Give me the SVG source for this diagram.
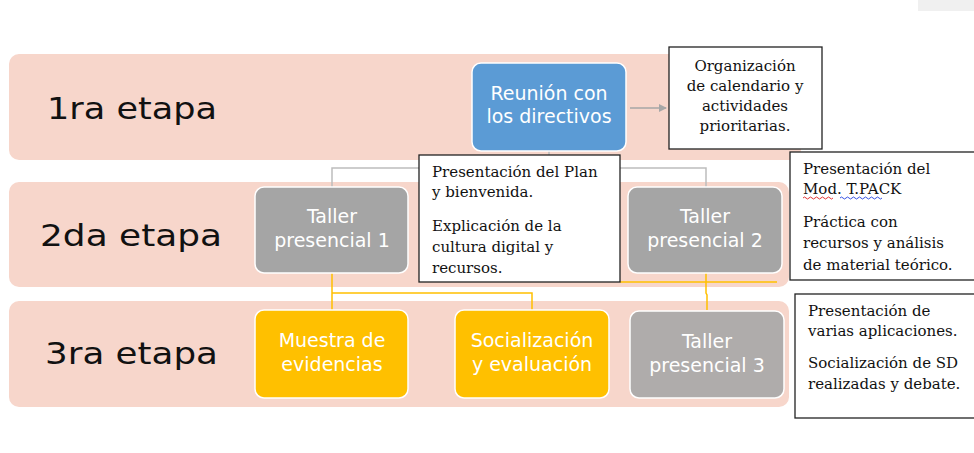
<svg xmlns="http://www.w3.org/2000/svg" width="974" height="453" viewBox="0 0 974 453">
<defs>
<style>
.band{fill:#F7D6CB}
.stage{font-family:"DejaVu Sans","Open Sans",sans-serif;font-size:31px;fill:#111}
.node text{font-family:"DejaVu Sans","Open Sans",sans-serif;font-size:19px;fill:#fff;text-anchor:middle}
.blue{fill:#5B9BD5;stroke:#fff;stroke-width:1.5}
.gray{fill:#A5A5A5;stroke:#fff;stroke-width:1.5}
.gray3{fill:#AFACAB;stroke:#fff;stroke-width:1.5}
.yel{fill:#FFC000;stroke:#fff;stroke-width:1.5}
.note rect{fill:#fff;stroke:#222;stroke-width:1.3}
.note text{font-family:"DejaVu Serif","Liberation Serif",serif;font-size:15px;fill:#111}
.gline{fill:none;stroke:#BDBDBD;stroke-width:1.5}
.yline{fill:none;stroke:#FFC000;stroke-width:1.5}
</style>
<marker id="arr" markerWidth="8" markerHeight="8" refX="7" refY="4" orient="auto" markerUnits="userSpaceOnUse">
<path d="M0,0 L8,4 L0,8 z" fill="#A6A6A6"/>
</marker>
</defs>
<rect x="918" y="0" width="56" height="11" fill="#F0F0F0"/>
<g id="bands">
<rect class="band" x="9" y="54" width="792" height="106" rx="10"/>
<rect class="band" x="9" y="182" width="780" height="105" rx="10"/>
<rect class="band" x="9" y="301" width="780" height="106" rx="10"/>
<text class="stage" x="47" y="119" textLength="170" lengthAdjust="spacingAndGlyphs">1ra etapa</text>
<text class="stage" x="40" y="246" textLength="182" lengthAdjust="spacingAndGlyphs">2da etapa</text>
<text class="stage" x="45" y="364" textLength="173" lengthAdjust="spacingAndGlyphs">3ra etapa</text>
</g>
<g id="connectors">
<path class="gline" d="M549,151 V168 M332,187 V168 H706 V187"/>
<line x1="630" y1="108" x2="666" y2="108" stroke="#A6A6A6" stroke-width="1.5" marker-end="url(#arr)"/>
<path class="yline" d="M332,273 V310 M332,293 H532 V310"/>
<path class="yline" d="M706,273 V293 L707,295 V310"/>
<path class="yline" d="M620,282 H777"/>
</g>
<g id="n-reunion" class="node">
<rect class="blue" x="472" y="63" width="154" height="88" rx="9"/>
<text x="549" y="100">Reunión con</text>
<text x="549" y="123">los directivos</text>
</g>
<g id="n-taller1" class="node">
<rect class="gray" x="255" y="187" width="153" height="86" rx="9"/>
<text x="332" y="223">Taller</text>
<text x="332" y="247">presencial 1</text>
</g>
<g id="n-taller2" class="node">
<rect class="gray" x="628" y="187" width="154" height="86" rx="9"/>
<text x="705" y="223">Taller</text>
<text x="705" y="247">presencial 2</text>
</g>
<g id="n-muestra" class="node">
<rect class="yel" x="255" y="310" width="153" height="88" rx="9"/>
<text x="332" y="347">Muestra de</text>
<text x="332" y="371">evidencias</text>
</g>
<g id="n-social" class="node">
<rect class="yel" x="455" y="310" width="154" height="88" rx="9"/>
<text x="532" y="347">Socialización</text>
<text x="532" y="371">y evaluación</text>
</g>
<g id="n-taller3" class="node">
<rect class="gray3" x="630" y="311" width="154" height="87" rx="9"/>
<text x="707" y="348">Taller</text>
<text x="707" y="372">presencial 3</text>
</g>
<g id="note-org" class="note">
<rect x="669" y="47" width="153" height="102"/>
<text x="745" y="71" text-anchor="middle">Organización</text>
<text x="745" y="91" text-anchor="middle">de calendario y</text>
<text x="745" y="111" text-anchor="middle">actividades</text>
<text x="745" y="131" text-anchor="middle">prioritarias.</text>
</g>
<g id="note-plan" class="note">
<rect x="419" y="155" width="201" height="127"/>
<text x="432" y="177">Presentación del Plan</text>
<text x="432" y="197">y bienvenida.</text>
<text x="432" y="231">Explicación de la</text>
<text x="432" y="252">cultura digital y</text>
<text x="432" y="273">recursos.</text>
</g>
<g id="note-tpack" class="note">
<rect x="790" y="152" width="190" height="128"/>
<text x="803" y="174">Presentación del</text>
<text x="803" y="194">Mod. T.PACK</text>
<text x="803" y="227">Práctica con</text>
<text x="803" y="248">recursos y análisis</text>
<text x="803" y="270">de material teórico.</text>
<path d="M803,198 q1.5,-2 3,0 t3,0 t3,0 t3,0 t3,0 t3,0 t3,0 t3,0 t3,0 t3,0" fill="none" stroke="#E02020" stroke-width="0.9"/>
<path d="M840,198 q1.5,-2 3,0 t3,0 t3,0 t3,0 t3,0 t3,0 t3,0 t3,0 t3,0 t3,0 t3,0 t3,0 t3,0 t3,0" fill="none" stroke="#2040E0" stroke-width="0.9"/>
</g>
<g id="note-apps" class="note">
<rect x="795" y="294" width="185" height="124"/>
<text x="808" y="316">Presentación de</text>
<text x="808" y="336">varias aplicaciones.</text>
<text x="808" y="368">Socialización de SD</text>
<text x="808" y="389">realizadas y debate.</text>
</g>
</svg>
